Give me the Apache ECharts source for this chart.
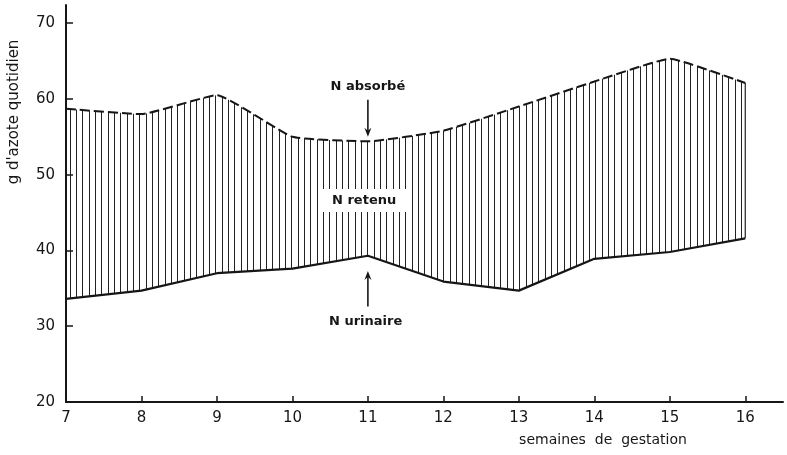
<!DOCTYPE html>
<html>
<head>
<meta charset="utf-8">
<script src="https://cdn.jsdelivr.net/npm/echarts@6/dist/echarts.min.js"></script>
<style>html,body{margin:0;padding:0;background:#fff}#c{width:787px;height:455px}</style>
</head>
<body>
<div id="c"></div>
<script>
const weeks = [7, 8, 9, 10, 11, 12, 13, 14, 15, 16];
const nAbsorbe = [58.7, 58.0, 60.5, 55.0, 54.4, 55.8, 59.0, 62.3, 65.3, 62.1];
const nUrinaire = [33.6, 34.7, 37.0, 37.6, 39.3, 35.9, 34.7, 38.9, 39.8, 41.6];
const xTicks = [7, 8, 9, 10, 11, 12, 13, 14, 15, 16];
const yTicks = [20, 30, 40, 50, 60, 70];

const font = 'DejaVu Sans';
const ink = '#161616';

// vertical hatching pattern
const pc = document.createElement('canvas');
pc.width = 19; pc.height = 4;
const px = pc.getContext('2d');
px.fillStyle = '#fff';
px.fillRect(0, 0, 19, 4);
px.fillStyle = '#222';
[0, 6, 13].forEach(x => px.fillRect(x, 0, 1, 4));

const chart = echarts.init(document.getElementById('c'));
const upper = weeks.map((w, i) => [w, nAbsorbe[i]]);
const lower = weeks.map((w, i) => [w, nUrinaire[i]]);
const last = weeks.length - 1;

chart.setOption({
  animation: false,
  backgroundColor: '#fff',
  grid: { left: 66, right: 4, top: 5, bottom: 53 },
  xAxis: {
    type: 'value', min: 7, max: 16.5, z: 10,
    splitLine: { show: false },
    axisLine: { show: true, lineStyle: { color: ink, width: 2 } },
    axisTick: { show: true, inside: true, length: 6, customValues: xTicks, lineStyle: { color: ink, width: 1.5 } },
    axisLabel: { customValues: xTicks, margin: 9, fontFamily: font, fontSize: 15, color: ink }
  },
  yAxis: {
    type: 'value', min: 20, max: 72.4, z: 10,
    splitLine: { show: false },
    axisLine: { show: true, lineStyle: { color: ink, width: 2 } },
    axisTick: { show: true, inside: true, length: 7, customValues: yTicks, lineStyle: { color: ink, width: 1.5 } },
    axisLabel: { customValues: yTicks, margin: 11, fontFamily: font, fontSize: 15, color: ink }
  },
  series: [
    {
      name: 'N absorbé', type: 'line', data: upper, smooth: 0.12, symbol: 'none', z: 2,
      lineStyle: { color: ink, width: 2, type: [10, 4] },
      areaStyle: { origin: 'start', opacity: 1, color: { image: pc, repeat: 'repeat' } }
    },
    {
      name: 'N urinaire', type: 'line', data: lower, symbol: 'none', z: 3,
      lineStyle: { color: ink, width: 2.2 },
      areaStyle: { origin: 'start', opacity: 1, color: '#fff' }
    }
  ]
});

function pt(x, y) { return chart.convertToPixel({ gridIndex: 0 }, [x, y]); }
function arrow(x, y0, y1) {
  const a = pt(x, y0), b = pt(x, y1);
  const dir = b[1] > a[1] ? 1 : -1;
  const L = 9, W = 3.5;
  return [
    { type: 'line', z: 20, shape: { x1: a[0], y1: a[1], x2: b[0], y2: b[1] - dir * 4 }, style: { stroke: ink, lineWidth: 1.6 } },
    { type: 'polygon', z: 20, shape: { points: [[b[0], b[1]], [b[0] - W, b[1] - dir * L], [b[0], b[1] - dir * (L - 3)], [b[0] + W, b[1] - dir * L]] }, style: { fill: ink } }
  ];
}
const side = [weeks[last], nUrinaire[last]], sideTop = [weeks[last], nAbsorbe[last]];
const s0 = pt(side[0], side[1]), s1 = pt(sideTop[0], sideTop[1]);
const pA = pt(11, 61.6), pR = pt(10.95, 46.6), pU = pt(10.97, 30.6);
const tfont = 'bold 13px "' + font + '"';
chart.setOption({
  graphic: [].concat(
    arrow(11, 59.9, 55.0),
    arrow(11, 32.6, 37.3),
    [
      { type: 'line', z: 5, shape: { x1: s0[0], y1: s0[1], x2: s1[0], y2: s1[1] }, style: { stroke: '#222', lineWidth: 1.2 } },
      { type: 'text', x: pA[0], y: pA[1], z: 20, style: { text: 'N absorbé', font: tfont, fill: ink, align: 'center', verticalAlign: 'middle' } },
      { type: 'text', x: pR[0], y: pR[1], z: 20, style: { text: 'N retenu', font: tfont, fill: ink, align: 'center', verticalAlign: 'middle', backgroundColor: '#fff', padding: [5, 12, 5, 12] } },
      { type: 'text', x: pU[0], y: pU[1], z: 20, style: { text: 'N urinaire', font: tfont, fill: ink, align: 'center', verticalAlign: 'middle' } },
      { type: 'text', x: 14, y: 112, rotation: Math.PI / 2, z: 20, style: { text: "g d'azote quotidien", font: '15px "' + font + '"', fill: ink, align: 'center', verticalAlign: 'middle' } },
      { type: 'text', x: 603, y: 440, z: 20, style: { text: 'semaines  de  gestation', font: '14px "' + font + '"', fill: ink, align: 'center', verticalAlign: 'middle' } }
    ]
  )
});
</script>
</body>
</html>
